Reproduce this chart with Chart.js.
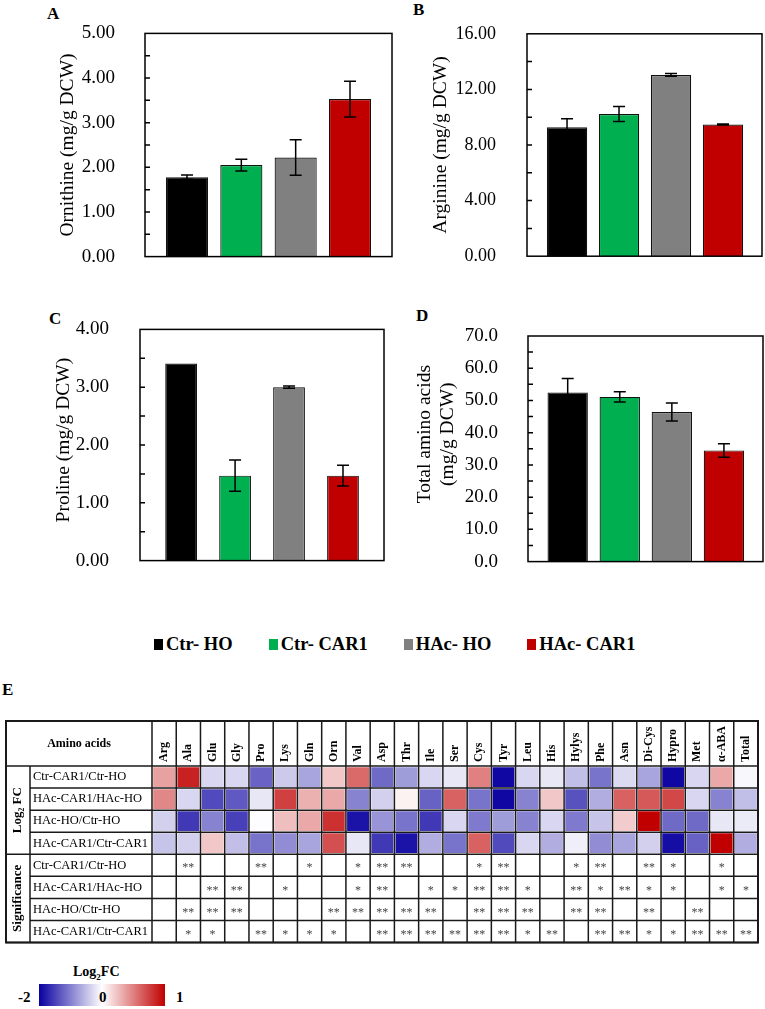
<!DOCTYPE html>
<html>
<head>
<meta charset="utf-8">
<script src="https://cdn.jsdelivr.net/npm/chart.js@4.4.1/dist/chart.umd.min.js"></script>
<style>
  body { margin: 0; background: #fff; }
  #page { position: relative; width: 765px; height: 1009px; overflow: hidden;
          font-family: "Liberation Serif", "Times New Roman", serif; color: #000; }
  #page canvas, .tag, #legend, .cb { position: absolute; }
  .tag { font-weight: bold; font-size: 17px; line-height: 17px; }
  #legend { left: 154px; top: 635px; display: flex; gap: 36px; font-family: "Liberation Serif", serif;
            font-weight: bold; font-size: 18.5px; line-height: 18.5px; }
  #legend .item { display: flex; align-items: center; }
  #legend .box { width: 9px; height: 11px; margin-right: 3px; }
  .cb { font-weight: bold; font-size: 15px; line-height: 20px; }
  #cbBar { left: 39px; top: 984px; width: 126px; height: 22px;
           background: linear-gradient(to right, rgb(10,0,160), #fff 50%, #c00000); }
</style>
</head>
<body>
<div id="page">
  <div class="tag" style="left:47px;top:5px">A</div>
  <div class="tag" style="left:413px;top:1px">B</div>
  <div class="tag" style="left:49px;top:310px">C</div>
  <div class="tag" style="left:416px;top:307px">D</div>
  <div class="tag" style="left:2px;top:681px">E</div>

  <canvas id="chartA" width="400" height="290" style="left:0;top:0"></canvas>
  <canvas id="chartB" width="380" height="290" style="left:385px;top:0"></canvas>
  <canvas id="chartC" width="395" height="300" style="left:0;top:295px"></canvas>
  <canvas id="chartD" width="380" height="300" style="left:385px;top:295px"></canvas>

  <div id="legend"></div>

  <canvas id="heat" width="765" height="234" style="left:0;top:716px"></canvas>

  <div class="cb" style="left:73px;top:962px;font-size:14px">Log<sub style="font-size:9px;line-height:0">2</sub>FC</div>
  <div id="cbBar" class="cb"></div>
  <div class="cb" style="left:18px;top:987px">-2</div>
  <div class="cb" style="left:99px;top:987px">0</div>
  <div class="cb" style="left:176px;top:987px">1</div>
</div>

<script>
// ---- bar panels ----
const groups = ['Ctr- HO', 'Ctr- CAR1', 'HAc- HO', 'HAc- CAR1'];
const groupColors = ['#000000', '#00b050', '#808080', '#c00000'];

const ornithine = [1.78, 2.05, 2.22, 3.53];
const ornithineErr = [0.05, 0.13, 0.40, 0.40];
const arginine = [9.28, 10.23, 13.04, 9.47];
const arginineErr = [0.60, 0.54, 0.10, 0.04];
const proline = [3.41, 1.47, 3.00, 1.47];
const prolineErr = [0, 0.27, 0.02, 0.18];
const totalAA = [52.5, 51.1, 46.4, 34.5];
const totalAAErr = [4.3, 1.6, 2.8, 2.1];

// ---- heatmap ----
const aminoAcids = ['Arg', 'Ala', 'Glu', 'Gly', 'Pro', 'Lys', 'Gln', 'Orn', 'Val', 'Asp', 'Thr', 'Ile', 'Ser',
  'Cys', 'Tyr', 'Leu', 'His', 'Hylys', 'Phe', 'Asn', 'Di-Cys', 'Hypro', 'Met', 'α-ABA', 'Total'];
const comparisons = ['Ctr-CAR1/Ctr-HO', 'HAc-CAR1/HAc-HO', 'HAc-HO/Ctr-HO', 'HAc-CAR1/Ctr-CAR1'];

const fcCar1VsHoCtr = [0.37, 0.87, -0.32, -0.32, -1.22, -0.42, -0.71, 0.22, 0.59, -1.17, -0.78, -0.32, -0.19,
  0.50, -1.95, -0.32, -0.19, -0.51, -1.10, -0.29, -0.71, -1.95, -0.32, 0.34, -0.06];
const fcCar1VsHoHAc = [0.47, -0.32, -1.42, -1.30, -0.19, 0.75, 0.31, 0.34, -0.97, -0.37, 0.05, -1.23, 0.62,
  -1.10, -1.95, -0.97, 0.22, -1.36, -0.64, 0.62, 0.65, 0.72, -0.32, -0.97, -0.51];
const fcHAcVsCtrHo = [-0.37, -1.56, -0.97, -1.50, -0.02, 0.25, 0.34, 0.81, -1.86, -0.84, -1.10, -1.56, -0.32,
  -1.04, -0.78, -0.97, -0.32, -1.04, -0.46, 0.20, 1.00, -1.17, -1.17, -0.19, -0.16];
const fcHAcVsCtrCar1 = [-0.46, -0.37, 0.22, -0.51, -1.10, -0.90, -0.71, 0.69, -0.19, -1.56, -1.86, -0.64, -1.10,
  0.62, -1.42, -0.32, -0.64, -0.13, -0.90, -0.71, -0.37, -1.90, -1.23, 1.00, -0.64];

const sigCar1VsHoCtr = ['', '**', '', '', '**', '', '*', '', '*', '**', '**', '', '', '*', '**', '', '', '*', '**', '', '**', '*', '', '*', ''];
const sigCar1VsHoHAc = ['', '', '**', '**', '', '*', '', '', '*', '**', '', '*', '*', '**', '**', '*', '', '**', '*', '**', '*', '*', '', '*', '*'];
const sigHAcVsCtrHo = ['', '**', '**', '**', '', '', '', '**', '**', '**', '**', '**', '', '**', '**', '**', '', '**', '**', '', '**', '', '**', '', ''];
const sigHAcVsCtrCar1 = ['', '*', '*', '', '**', '*', '*', '*', '', '**', '**', '**', '**', '**', '**', '*', '**', '', '**', '**', '*', '*', '**', '**', '**'];

const fcRows = [fcCar1VsHoCtr, fcCar1VsHoHAc, fcHAcVsCtrHo, fcHAcVsCtrCar1];
const sigRows = [sigCar1VsHoCtr, sigCar1VsHoHAc, sigHAcVsCtrHo, sigHAcVsCtrCar1];
const rowLabels = comparisons.concat(comparisons);

const SERIF = '"Liberation Serif", "Times New Roman", serif';
Chart.defaults.font.family = SERIF;
Chart.defaults.color = '#000';

// legend row under the bar panels
const legendEl = document.getElementById('legend');
groups.forEach((g, i) => {
  const item = document.createElement('div');
  item.className = 'item';
  item.innerHTML = `<span class="box" style="background:${groupColors[i]}"></span>${g}`;
  legendEl.appendChild(item);
});

// box round the plot area plus short inward ticks at every half step
const frame = {
  id: 'frame',
  afterDraw(chart) {
    const { ctx, chartArea: a, scales: { y } } = chart;
    ctx.save();
    ctx.strokeStyle = '#000';
    ctx.lineWidth = 1.5;
    ctx.strokeRect(a.left, a.top, a.right - a.left, a.bottom - a.top);
    const minor = y.options.ticks.stepSize / 2;
    ctx.beginPath();
    for (let v = minor; v < y.max; v += minor) {
      const py = y.getPixelForValue(v);
      ctx.moveTo(a.left, py);
      ctx.lineTo(a.left + 5, py);
    }
    ctx.stroke();
    ctx.restore();
  }
};

const errorBars = {
  id: 'errorBars',
  afterDatasetsDraw(chart) {
    const { ctx, scales: { y } } = chart;
    const ds = chart.data.datasets[0];
    ctx.save();
    ctx.strokeStyle = '#000';
    ctx.lineWidth = 1.5;
    chart.getDatasetMeta(0).data.forEach((bar, i) => {
      const e = ds.errors[i];
      if (!e) return;
      const v = ds.data[i].y;
      const top = y.getPixelForValue(v + e);
      const bot = y.getPixelForValue(v - e);
      ctx.beginPath();
      ctx.moveTo(bar.x, top); ctx.lineTo(bar.x, bot);
      ctx.moveTo(bar.x - 6, top); ctx.lineTo(bar.x + 6, top);
      ctx.moveTo(bar.x - 6, bot); ctx.lineTo(bar.x + 6, bot);
      ctx.stroke();
    });
    ctx.restore();
  }
};

function barPanel(id, values, errors, o) {
  return new Chart(document.getElementById(id), {
    type: 'bar',
    data: {
      datasets: [{
        data: values.map((v, i) => ({ x: i + 1, y: v })),
        errors: errors,
        backgroundColor: groupColors,
        borderColor: '#111',
        borderWidth: 1.2,
        barPercentage: 0.775,
        categoryPercentage: 1
      }]
    },
    options: {
      responsive: false,
      animation: false,
      layout: { padding: o.padding },
      plugins: { legend: { display: false }, tooltip: { enabled: false } },
      scales: {
        x: { type: 'linear', min: o.xMin, max: o.xMax, offset: false, display: false },
        y: {
          min: 0,
          max: o.yMax,
          grid: { display: false },
          border: { display: false },
          ticks: {
            stepSize: o.step,
            padding: o.tickPad,
            font: { size: o.tickSize },
            callback: v => v.toFixed(o.dec)
          },
          title: {
            display: true,
            text: o.title,
            font: { size: 19.5 },
            padding: { top: o.titlePad, bottom: 0 }
          },
          afterFit: s => { s.width = o.axisWidth; }
        }
      }
    },
    plugins: [frame, errorBars]
  });
}

barPanel('chartA', ornithine, ornithineErr, {
  padding: { left: 0, top: 19, right: 8, bottom: 14 }, axisWidth: 145,
  xMin: 0.227, xMax: 4.773, yMax: 5, step: 1, dec: 2, tickSize: 19, tickPad: 22,
  title: 'Ornithine (mg/g DCW)', titlePad: 56
});
barPanel('chartB', arginine, arginineErr, {
  padding: { left: 0, top: 19, right: 3, bottom: 18 }, axisWidth: 142,
  xMin: 0.23, xMax: 4.75, yMax: 16, step: 4, dec: 2, tickSize: 18, tickPad: 23,
  title: 'Arginine (mg/g DCW)', titlePad: 44
});
barPanel('chartC', proline, prolineErr, {
  padding: { left: 0, top: 34, right: 11, bottom: 16 }, axisWidth: 140,
  xMin: 0.238, xMax: 4.76, yMax: 4, step: 1, dec: 2, tickSize: 19, tickPad: 23,
  title: '  Proline (mg/g DCW)', titlePad: 52
});
barPanel('chartD', totalAA, totalAAErr, {
  padding: { left: 0, top: 41, right: 2, bottom: 21 }, axisWidth: 143,
  xMin: 0.238, xMax: 4.75, yMax: 70, step: 10, dec: 1, tickSize: 19, tickPad: 22,
  title: ['      Total amino acids', '      (mg/g DCW)'], titlePad: 28
});

// ---- heatmap table ----
function fcColor(v) {
  const t = Math.max(-1, Math.min(1, v < 0 ? v / 2 : v));
  if (t < 0) {
    const k = -t;
    return `rgb(${Math.round(255 - 245 * k)},${Math.round(255 - 255 * k)},${Math.round(255 - 95 * k)})`;
  }
  return `rgb(${Math.round(255 - 63 * t)},${Math.round(255 - 255 * t)},${Math.round(255 - 255 * t)})`;
}

const TABLE_LEFT = 6, TABLE_TOP = 5, GROUP_RIGHT = 30;

const tableGrid = {
  id: 'tableGrid',
  afterDraw(chart) {
    const { ctx, chartArea: a, scales: { x, y } } = chart;
    const colW = (a.right - a.left) / aminoAcids.length;
    ctx.save();
    ctx.strokeStyle = '#1a1a1a';
    ctx.lineWidth = 1.5;
    ctx.beginPath();
    for (let i = 0; i <= aminoAcids.length; i++) {
      const px = a.left + i * colW;
      ctx.moveTo(px, TABLE_TOP);
      ctx.lineTo(px, a.bottom);
    }
    for (let r = 0; r <= rowLabels.length; r++) {
      const py = y.getPixelForValue(r);
      ctx.moveTo(r % 4 === 0 ? TABLE_LEFT : GROUP_RIGHT, py);
      ctx.lineTo(a.right, py);
    }
    ctx.moveTo(GROUP_RIGHT, a.top);
    ctx.lineTo(GROUP_RIGHT, a.bottom);
    ctx.stroke();
    ctx.lineWidth = 2;
    ctx.strokeRect(TABLE_LEFT, TABLE_TOP, a.right - TABLE_LEFT, a.bottom - TABLE_TOP);

    ctx.fillStyle = '#000';
    ctx.textAlign = 'center';
    ctx.textBaseline = 'middle';
    ctx.font = 'bold 12px ' + SERIF;
    ctx.fillText('Amino acids', (TABLE_LEFT + a.left) / 2, (TABLE_TOP + a.top) / 2);

    // amino acid names, reading upwards from the bottom of the header cell
    ctx.textAlign = 'left';
    x.ticks.forEach((t, c) => {
      ctx.save();
      ctx.translate(x.getPixelForValue(c), a.top - 4);
      ctx.rotate(-Math.PI / 2);
      ctx.fillText(aminoAcids[c], 0, 0);
      ctx.restore();
    });

    ctx.textAlign = 'center';
    ctx.font = 'bold 13px ' + SERIF;
    [['Log₂ FC', 0, 4], ['Significance', 4, 8]].forEach(([t, r0, r1]) => {
      ctx.save();
      ctx.translate((TABLE_LEFT + GROUP_RIGHT) / 2, (y.getPixelForValue(r0) + y.getPixelForValue(r1)) / 2);
      ctx.rotate(-Math.PI / 2);
      ctx.fillText(t, 0, 0);
      ctx.restore();
    });

    ctx.font = '12px ' + SERIF;
    ctx.fillStyle = '#444';
    sigRows.forEach((row, r) => row.forEach((s, c) => {
      if (s) ctx.fillText(s, x.getPixelForValue(c), y.getPixelForValue(4 + r + 0.5) + 3);
    }));
    ctx.restore();
  }
};

new Chart(document.getElementById('heat'), {
  type: 'bar',
  data: {
    labels: aminoAcids,
    datasets: fcRows.map((row, r) => ({
      data: row.map(() => [r, r + 1]),
      backgroundColor: row.map(fcColor),
      borderColor: '#fff',
      borderWidth: 1.5,
      borderSkipped: false,
      grouped: false,
      barPercentage: 1,
      categoryPercentage: 1
    }))
  },
  options: {
    responsive: false,
    animation: false,
    layout: { padding: { left: 33, top: TABLE_TOP, right: 7, bottom: 6 } },
    plugins: { legend: { display: false }, tooltip: { enabled: false } },
    scales: {
      x: {
        type: 'category',
        position: 'top',
        offset: true,
        grid: { display: false },
        border: { display: false },
        ticks: { display: false, autoSkip: false },
        afterFit: s => { s.height = 45; }
      },
      y: {
        type: 'linear',
        min: 0,
        max: rowLabels.length,
        reverse: true,
        grid: { display: false },
        border: { display: false },
        afterBuildTicks: s => { s.ticks = rowLabels.map((_, i) => ({ value: i + 0.5 })); },
        ticks: { crossAlign: 'far', padding: 0, font: { size: 12.5 }, callback: (v, i) => rowLabels[i] },
        afterFit: s => { s.width = 119; }
      }
    }
  },
  plugins: [tableGrid]
});
</script>
</body>
</html>
